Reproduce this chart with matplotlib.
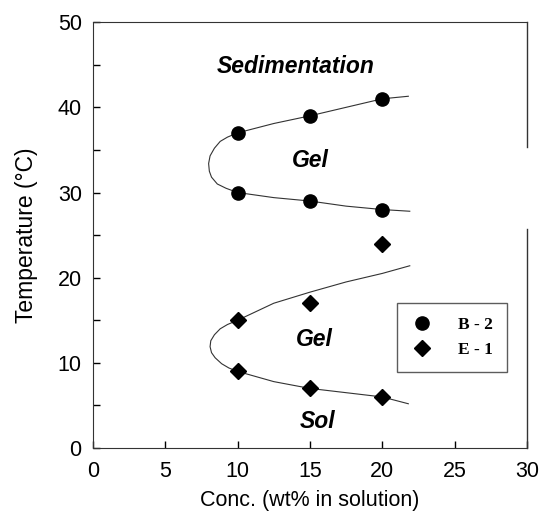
"""
Phase diagram: temperature vs concentration (sol / gel / sedimentation)
"""
import numpy as np
import matplotlib.pyplot as plt
from matplotlib.ticker import MultipleLocator

plt.rcParams['font.family'] = 'Liberation Sans'

# measured points
conc = [10, 15, 20]
b2_upper = [37, 39, 41]
b2_lower = [30, 29, 28]
e1_upper = [15, 17, 24]
e1_lower = [9, 7, 6]

# boundary curves (x = conc, y = temperature)
b2_curve_x = [21.8, 20, 17.5, 15, 12.5, 10, 9.3, 8.8, 8.4, 8.1, 8.0, 8.05, 8.2, 8.6, 9.2, 10, 12.5, 15, 17.5, 20, 21.9]
b2_curve_y = [41.3, 41, 40, 39, 38.1, 37, 36.5, 36.0, 35.2, 34.3, 33.4, 32.5, 31.8, 31.0, 30.5, 30, 29.4, 29, 28.4, 28, 27.8]
e1_curve_x = [21.9, 20, 17.5, 15, 12.5, 10, 9.3, 8.8, 8.4, 8.15, 8.1, 8.2, 8.45, 8.9, 9.4, 10, 12.5, 15, 17.5, 20, 21.8]
e1_curve_y = [21.4, 20.5, 19.5, 18.3, 17.0, 15, 14.5, 14.0, 13.3, 12.6, 11.9, 11.2, 10.6, 9.9, 9.4, 9, 7.8, 7, 6.5, 6, 5.2]

fig = plt.figure(figsize=(5.43, 5.15), dpi=100)
ax = fig.add_axes([0.171, 0.130, 0.7995, 0.827])

ax.plot(b2_curve_x, b2_curve_y, '-', color='#333333', linewidth=0.8)
ax.plot(e1_curve_x, e1_curve_y, '-', color='#333333', linewidth=0.8)

ax.plot(conc + conc, b2_upper + b2_lower, 'o', color='black', markersize=9.5, label='B - 2')
ax.plot(conc + conc, e1_upper + e1_lower, 'D', color='black', markersize=8.5, label='E - 1')

# region labels
lab = dict(fontsize=16.5, fontweight='bold', fontstyle='italic', ha='center', va='center')
ax.text(14, 44.8, 'Sedimentation', **lab)
ax.text(15, 33.8, 'Gel', **lab)
ax.text(15.3, 12.7, 'Gel', **lab)
ax.text(15.5, 3.1, 'Sol', **lab)

ax.set_xlim(0, 30)
ax.set_ylim(0, 50)
ax.xaxis.set_major_locator(MultipleLocator(5))
ax.yaxis.set_major_locator(MultipleLocator(10))
ax.yaxis.set_minor_locator(MultipleLocator(5))
ax.tick_params(which='both', direction='in', length=5, width=1, labelsize=15.5)
ax.tick_params(axis='x', pad=9)
ax.tick_params(axis='y', pad=8)

ax.set_xlabel('Conc. (wt% in solution)', fontsize=15.5, labelpad=6)
ax.set_ylabel('Temperature (°C)', fontsize=16.5, labelpad=14)

# right axis line is broken in the original
ax.spines['right'].set_visible(False)
for sp in ['left', 'bottom', 'top']:
    ax.spines[sp].set_color('#333333')
ax.plot([1, 1], [0, 0.514], transform=ax.transAxes, color='#333333', linewidth=1, clip_on=False)
ax.plot([1, 1], [0.706, 1], transform=ax.transAxes, color='#333333', linewidth=1, clip_on=False)

leg = ax.legend(loc='lower right', bbox_to_anchor=(0.954, 0.178), borderaxespad=0,
                frameon=True, fancybox=False,
                prop={'family': 'Liberation Serif', 'weight': 'bold', 'size': 12.5},
                handletextpad=1.5, borderpad=0.8, handlelength=1.2, labelspacing=0.55)
leg.get_frame().set_edgecolor('#333333')
leg.get_frame().set_linewidth(1)

plt.savefig('out.png', dpi=100)
plt.close()
